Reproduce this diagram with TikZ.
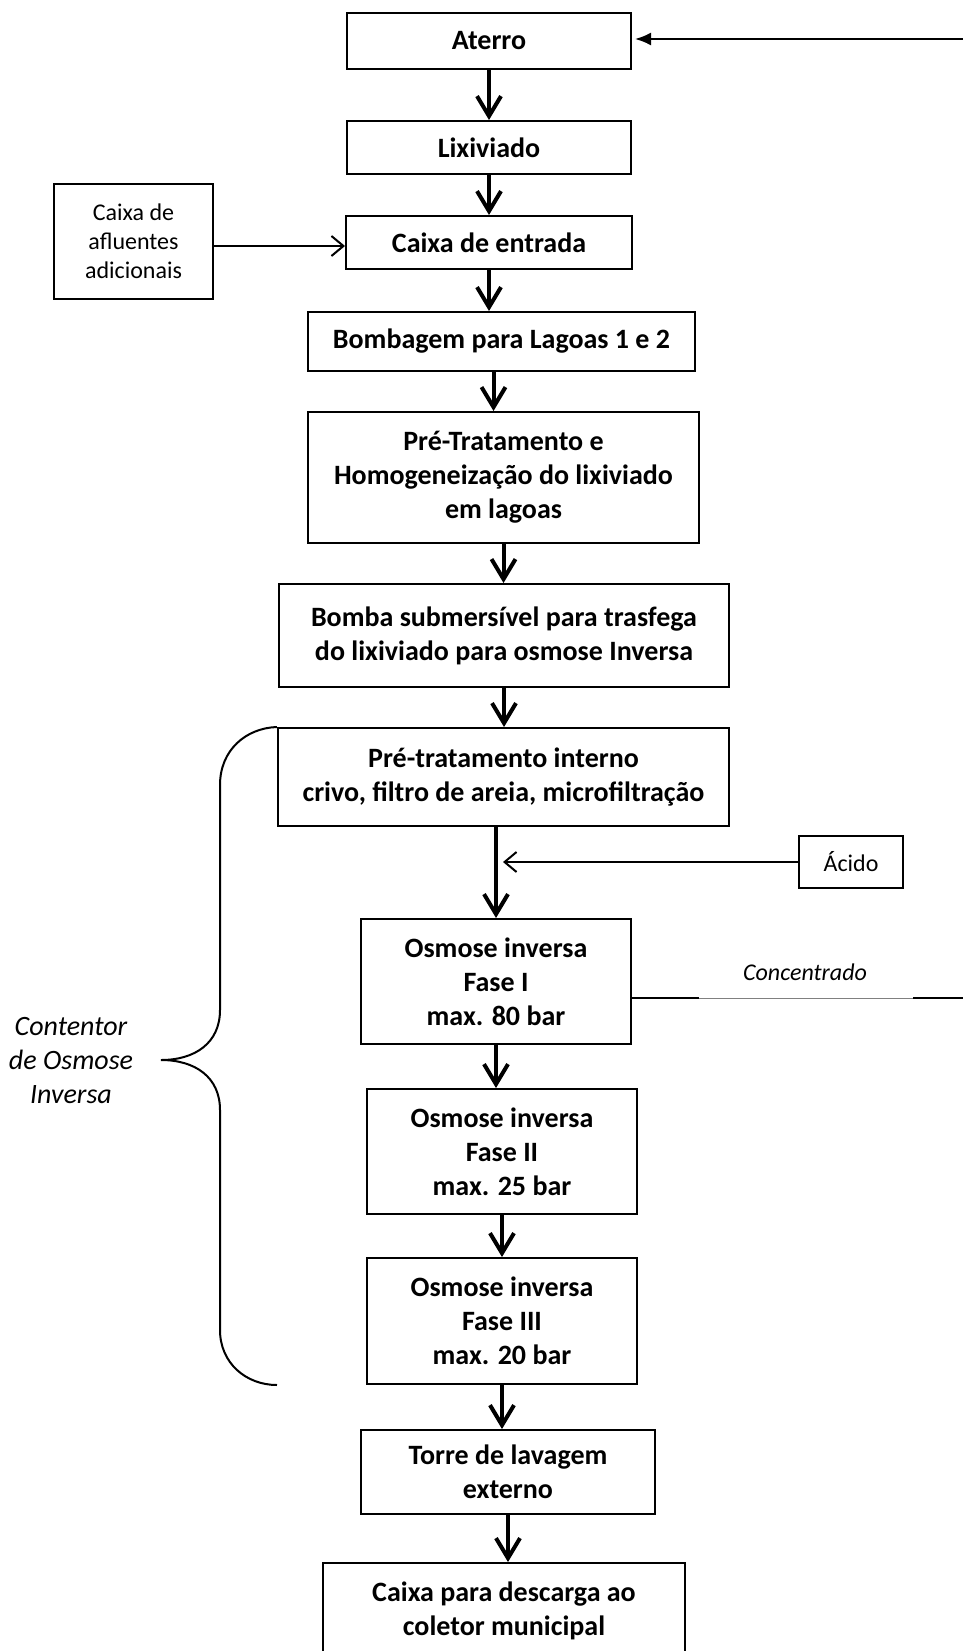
\documentclass[tikz,border=0pt]{standalone}
\usepackage{fontspec}
\setmainfont{Carlito}
\usetikzlibrary{arrows.meta}
\begin{document}
\begin{tikzpicture}[x=1pt,y=-1pt,
  box/.style 2 args={draw, line width=2pt, inner sep=0pt, align=center,
    minimum width=#1, minimum height=#2,
    font=\bfseries\fontsize{28}{34}\selectfont},
  smallbox/.style 2 args={draw, line width=2pt, inner sep=0pt, align=center,
    minimum width=#1, minimum height=#2,
    font=\fontsize{24}{29}\selectfont},
  flow/.style={line width=4pt, -{Straight Barb[length=20pt,width=24pt]}},
  thinflow/.style={line width=2pt, -{Straight Barb[length=12pt,width=20pt]}},
  feed/.style={line width=2pt, -{Latex[length=16pt,width=13pt]}},
  plain/.style={line width=2pt},
  lbl/.style={font=\itshape\fontsize{24}{29}\selectfont, inner sep=0pt},
  biglbl/.style={font=\itshape\fontsize{28}{34}\selectfont, inner sep=0pt, align=center}
]
\useasboundingbox (0,0) rectangle (963,1651);
\clip (0,0) rectangle (963,1651);
\fill[white] (0,0) rectangle (963,1651);

% boxes
\node[box={284pt}{56pt}] (aterro) at (489,41) {Aterro};
\node[box={284pt}{53pt}] (lix) at (489,147.5) {Lixiviado};
\node[box={286pt}{53pt}] (entrada) at (489,242.5) {Caixa de entrada};
\node[smallbox={159pt}{115pt}] (afl) at (133.5,241.5) {Caixa de\\afluentes\\adicionais};
\node[box={387pt}{59pt}] (bomb) at (501.5,341.5) {Bombagem para Lagoas 1 e 2};
\node[box={391pt}{131pt}] (pret) at (503.5,477.5) {Pré-Tratamento e\\Homogeneização do lixiviado\\em lagoas};
\node[box={450pt}{103pt}] (bomba) at (504,635.5) {Bomba submersível para trasfega\\do lixiviado para osmose Inversa};
\node[box={451pt}{98pt}] (prei) at (503.5,777) {Pré-tratamento interno\\crivo, filtro de areia, microfiltração};
\node[smallbox={104pt}{52pt}] (acido) at (851,862) {Ácido};
\node[box={270pt}{125pt}] (osm1) at (496,981.5) {Osmose inversa\\Fase I\\max. 80 bar};
\node[box={270pt}{125pt}] (osm2) at (502,1151.5) {Osmose inversa\\Fase II\\max. 25 bar};
\node[box={270pt}{126pt}] (osm3) at (502,1321) {Osmose inversa\\Fase III\\max. 20 bar};
\node[box={294pt}{84pt}] (torre) at (508,1472) {Torre de lavagem\\externo};
\node[box={362pt}{96pt}] (desc) at (504,1611) {Caixa para descarga ao\\coletor municipal};

% main flow
\draw[flow] (aterro.south) -- (aterro.south |- lix.north);
\draw[flow] (lix.south) -- (lix.south |- entrada.north);
\draw[flow] (entrada.south) -- (entrada.south |- bomb.north);
\draw[flow] ([xshift=-8pt]bomb.south) -- ([xshift=-8pt]bomb.south |- pret.north);
\draw[flow] (pret.south) -- (pret.south |- bomba.north);
\draw[flow] (bomba.south) -- (bomba.south |- prei.north);
\draw[flow] (prei.south -| osm1.north) -- (osm1.north);
\draw[flow] (osm1.south) -- (osm1.south |- osm2.north);
\draw[flow] (osm2.south) -- (osm2.south |- osm3.north);
\draw[flow] (osm3.south) -- (osm3.south |- torre.north);
\draw[flow] (torre.south) -- (torre.south |- desc.north);

% side inputs
\coordinate (rin) at (963,39);
\draw[feed] (rin) -- ([xshift=3pt]aterro.east |- rin);
\coordinate (aflpt) at (0,246);
\draw[thinflow] (afl.east |- aflpt) -- (entrada.west |- aflpt);
\coordinate (acidotip) at (503,862);
\draw[thinflow] (acido.west) -- (acidotip);

% concentrado
\coordinate (c1) at (699,998);
\coordinate (c2) at (913,998);
\coordinate (c3) at (963,998);
\draw[plain] (osm1.east |- c1) -- (c1);
\draw[gray, line width=1pt] (c1) -- (c2);
\draw[plain] (c2) -- (c3);
\node[lbl] (conc) at (805,972) {Concentrado};

% brace
\draw[plain] (prei.north west) .. controls (246,728) and (220,750) .. (220,785)
  -- (220,1010) .. controls (220,1043) and (195,1060) .. (161,1060)
  .. controls (195,1060) and (220,1077) .. (220,1110)
  -- (220,1330) .. controls (220,1363) and (246,1385) .. (osm3.south west -| prei.west);
\node[biglbl] (cont) at (71,1061) {Contentor\\de Osmose\\Inversa};
\end{tikzpicture}
\end{document}
